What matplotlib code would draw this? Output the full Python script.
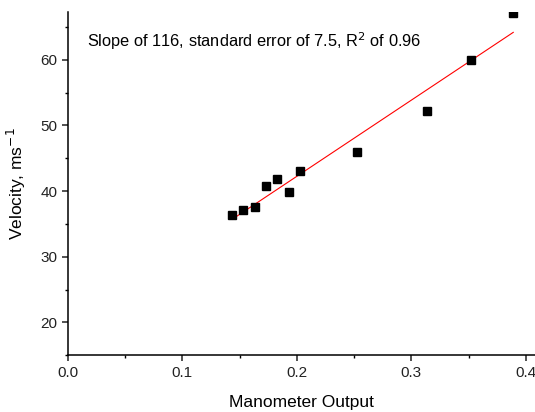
import matplotlib.pyplot as plt
import matplotlib.ticker as ticker
import numpy as np

plt.rcParams['font.family'] = ['Liberation Sans', 'DejaVu Sans']

# manometer output vs velocity
manometer = [0.1435, 0.153, 0.163, 0.173, 0.183, 0.193, 0.203, 0.2525, 0.3135, 0.352, 0.389]
velocity = [36.3, 37.1, 37.5, 40.8, 41.9, 39.8, 43.1, 45.9, 52.2, 60.0, 67.2]
annotation = "Slope of 116, standard error of 7.5, R$^2$ of 0.96"

fig = plt.figure(figsize=(5.35, 4.12), dpi=100)
ax = fig.add_axes([0.127, 0.138, 0.873, 0.833])

x = np.array(manometer)
y = np.array(velocity)
slope, icept = np.polyfit(x, y, 1)
xf = np.array([x.min(), x.max()])
ax.plot(xf, slope * xf + icept, color='red', lw=0.8, zorder=2)
ax.plot(x, y, 's', color='black', ms=6, zorder=3)

ax.set_xlim(0.0, 0.408)
ax.set_ylim(15, 67.3)
ax.xaxis.set_major_locator(ticker.MultipleLocator(0.1))
ax.xaxis.set_minor_locator(ticker.MultipleLocator(0.05))
ax.yaxis.set_major_locator(ticker.MultipleLocator(10))
ax.yaxis.set_minor_locator(ticker.MultipleLocator(5))
ax.xaxis.set_major_formatter(ticker.FormatStrFormatter('%.1f'))
ax.set_yticks([20, 30, 40, 50, 60])

for s in ('top', 'right'):
    ax.spines[s].set_visible(False)
for s in ('left', 'bottom'):
    ax.spines[s].set_linewidth(1.1)
ax.tick_params(which='major', direction='out', length=4, width=1.1, labelsize=11, colors='#222222')
ax.tick_params(which='minor', direction='out', length=2.5, width=1.0)

ax.set_xlabel("Manometer Output", fontsize=12.5, labelpad=11)
ax.set_ylabel("Velocity, ms$^{-1}$", fontsize=12.5, labelpad=9)

ax.text(0.04, 0.915, annotation, transform=ax.transAxes, fontsize=11.8, va='center')

fig.savefig("out.png", dpi=100)
